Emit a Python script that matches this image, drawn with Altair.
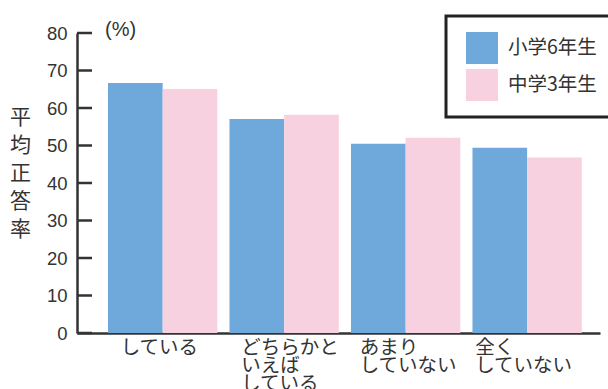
import altair as alt
import pandas as pd

categories = ["している", "どちらかと\nいえば\nしている", "あまり\nしていない", "全く\nしていない"]
groups = ["小学6年生", "中学3年生"]
elementary = [66.7, 57.1, 50.5, 49.4]
junior = [65.1, 58.2, 52.1, 46.8]
y_ticks = [0, 10, 20, 30, 40, 50, 60, 70, 80]
label_shift = [-42, -43, -46, -52]
colors = ["#6fa8db", "#f7d1e0"]

rows = []
for c, a, b in zip(categories, elementary, junior):
    rows.append({"cat": c, "grp": groups[0], "val": a})
    rows.append({"cat": c, "grp": groups[1], "val": b})
df = pd.DataFrame(rows)
ticks_df = pd.DataFrame({"v": y_ticks})

FONT = "Noto Sans CJK JP"
NUMFONT = "Liberation Sans"
INK = "#333333"

label_offset = {
    "condition": [
        {"test": f"datum.value === {repr(c)}".replace("\n", "\\n"), "value": s}
        for c, s in zip(categories[:-1], label_shift[:-1])
    ],
    "value": label_shift[-1],
}

yscale = alt.Scale(domain=[0, 80], nice=False)
yaxis = alt.Axis(values=y_ticks, ticks=False, grid=False, domainColor=INK,
                 domainWidth=2.5, labelFontSize=18.5, labelColor=INK,
                 labelFont=NUMFONT, labelPadding=10, labelOverlap=False,
                 title=["平", "均", "正", "答", "率"], titleAngle=0,
                 titleFont=FONT, titleFontSize=21, titleFontWeight="normal",
                 titleColor=INK, titleLineHeight=28, titleX=-57, titleY=84,
                 titleAlign="center", titleBaseline="middle")

bars = alt.Chart(df).mark_bar(opacity=1).encode(
    x=alt.X("cat:N", sort=categories, title=None,
            scale=alt.Scale(paddingInner=0.1, paddingOuter=0.2025, align=0.63),
            axis=alt.Axis(labelAngle=0, ticks=False, domainColor=INK, domainWidth=2.5,
                          labelExpr="split(datum.label, '\\n')",
                          labelAlign="left", labelBaseline="top", labelPadding=5,
                          labelLineHeight=18, labelFontSize=19.5, labelColor=INK,
                          labelFont=FONT, labelOffset=label_offset, labelLimit=0,
                          labelOverlap=False)),
    xOffset=alt.XOffset("grp:N", sort=groups,
                        scale=alt.Scale(paddingInner=0, paddingOuter=0)),
    y=alt.Y("val:Q", scale=yscale, axis=yaxis),
    color=alt.Color("grp:N", sort=groups,
                    scale=alt.Scale(domain=groups, range=colors),
                    legend=alt.Legend(title=None, orient="none", legendX=369, legendY=-17,
                                      symbolType="square", symbolSize=1024,
                                      symbolStrokeWidth=0, symbolOffset=4,
                                      labelFontSize=19.5, labelFont=FONT, labelColor=INK,
                                      labelOffset=10, rowPadding=5, padding=16,
                                      labelLimit=0)),
)

tick_rules = alt.Chart(ticks_df).mark_rule(color=INK, strokeWidth=2.5).encode(
    y=alt.Y("v:Q", scale=yscale, axis=yaxis),
    x=alt.value(0),
    x2=alt.value(15),
)

chart = alt.layer(bars, tick_rules).properties(
    width=523,
    height=300,
    autosize=alt.AutoSizeParams(type="none"),
    padding={"left": 77, "top": 33, "right": 8, "bottom": 56},
    title=alt.TitleParams("(%)", anchor="start", frame="group", dx=28, dy=35, offset=0,
                          baseline="middle", fontSize=20, fontWeight="normal",
                          font=NUMFONT, color=INK),
).configure_view(stroke=None).configure_legend(strokeColor="#222222", strokeWidth=3)

chart.save("out.html", embed_options={"renderer": "svg", "actions": False})
